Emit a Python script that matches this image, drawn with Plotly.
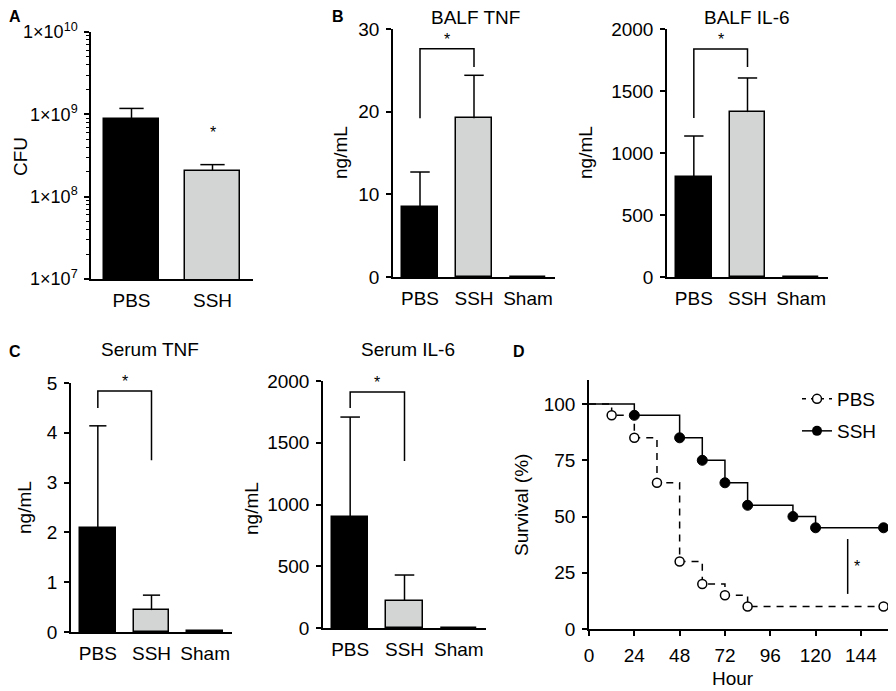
import plotly.graph_objects as go

# the page body has an 8px margin, so the figure is drawn 8px in from the corner
PAGE_W, PAGE_H = 896, 691
OFF = 8
W, H = PAGE_W - OFF, PAGE_H - OFF
FONT = "Liberation Sans, Arial, sans-serif"
BLACK = "black"
GREY = "#d3d5d4"

# ---- data ----
# panel A (CFU, log scale)
cfu_groups = ["PBS", "SSH"]
cfu_mean = [8.7e8, 2.07e8]
cfu_err = [3.1e8, 0.38e8]
cfu_star = 6.5e8

groups = ["PBS", "SSH", "Sham"]

# panel B
balf_tnf_mean = [8.46, 19.2, 0.05]
balf_tnf_err = [4.24, 5.2, None]
balf_tnf_bracket = [19.2, 27.6, 25.4]     # left leg end, top, right leg end

balf_il6_mean = [806, 1330, 0]
balf_il6_err = [331, 275, None]
balf_il6_bracket = [1282, 1838, 1694]

# panel C
serum_tnf_mean = [2.09, 0.44, 0.03]
serum_tnf_err = [2.05, 0.30, None]
serum_tnf_bracket = [4.5, 4.84, 3.45]

serum_il6_mean = [899, 219, 0]
serum_il6_err = [809, 210, None]
serum_il6_bracket = [1781, 1911, 1352]

# panel D (survival)
pbs_hours = [0, 12, 24, 36, 48, 60, 72, 84, 156]
pbs_surv = [100, 95, 85, 65, 30, 20, 15, 10, 10]
ssh_hours = [0, 24, 48, 60, 72, 84, 108, 120, 156]
ssh_surv = [100, 95, 85, 75, 65, 55, 50, 45, 45]
sig_hour = 137
sig_range = [15.6, 40]
hour_ticks = [0, 24, 48, 72, 96, 120, 144]
surv_ticks = [0, 25, 50, 75, 100]


def px_x(a):
    return (a - OFF) / W


def px_y(a):
    return 1 - (a - OFF) / H


def xd(a, b):
    return [px_x(a), px_x(b)]


def yd(top, bottom):
    return [px_y(bottom), px_y(top)]


fig = go.Figure()


def bar_panel(n, means, errs, bracket=None, cap=0.18):
    xa = "x" if n == 1 else "x%d" % n
    ya = "y" if n == 1 else "y%d" % n
    xs = list(range(len(means)))
    fig.add_trace(go.Bar(
        x=xs, y=means, width=0.67,
        marker=dict(color=[BLACK, GREY, GREY][:len(means)],
                    line=dict(color=BLACK, width=1.5)),
        xaxis=xa, yaxis=ya, showlegend=False))
    # upper error bars (stem + cap), no lower cap
    ex, ey = [], []
    for i, (m, e) in enumerate(zip(means, errs)):
        if e is None:
            continue
        ex += [i, i, None, i - cap, i + cap, None]
        ey += [m, m + e, None, m + e, m + e, None]
    fig.add_trace(go.Scatter(x=ex, y=ey, mode="lines",
                             line=dict(color=BLACK, width=1.5),
                             xaxis=xa, yaxis=ya, showlegend=False))
    if bracket is not None:
        fig.add_trace(go.Scatter(
            x=[0, 0, 1, 1], y=[bracket[0], bracket[1], bracket[1], bracket[2]],
            mode="lines", line=dict(color=BLACK, width=1.5),
            xaxis=xa, yaxis=ya, showlegend=False, cliponaxis=False))
        fig.add_annotation(x=0.5, y=bracket[1], xref=xa, yref=ya, text="*",
                           showarrow=False, font=dict(size=16, color=BLACK),
                           yanchor="bottom", yshift=-1)


bar_panel(1, cfu_mean, cfu_err, cap=0.15)
fig.add_annotation(x=1, y=8.81, xref="x", yref="y", text="*", showarrow=False,
                   font=dict(size=16, color=BLACK), yanchor="middle", yshift=-3)
bar_panel(2, balf_tnf_mean, balf_tnf_err, balf_tnf_bracket)
bar_panel(3, balf_il6_mean, balf_il6_err, balf_il6_bracket)
bar_panel(4, serum_tnf_mean, serum_tnf_err, serum_tnf_bracket, cap=0.16)
bar_panel(5, serum_il6_mean, serum_il6_err, serum_il6_bracket)

# survival curves
fig.add_trace(go.Scatter(x=pbs_hours, y=pbs_surv, mode="lines", line_shape="hv",
                         line=dict(color=BLACK, width=1.5, dash="7px,6px"),
                         xaxis="x6", yaxis="y6", showlegend=False))
fig.add_trace(go.Scatter(x=ssh_hours, y=ssh_surv, mode="lines", line_shape="hv",
                         line=dict(color=BLACK, width=1.5),
                         xaxis="x6", yaxis="y6", showlegend=False))
fig.add_trace(go.Scatter(x=pbs_hours[1:], y=pbs_surv[1:], mode="markers",
                         marker=dict(symbol="circle", size=9, color="white",
                                     line=dict(color=BLACK, width=1.5)),
                         xaxis="x6", yaxis="y6", showlegend=False))
fig.add_trace(go.Scatter(x=ssh_hours[1:], y=ssh_surv[1:], mode="markers",
                         marker=dict(symbol="circle", size=10, color=BLACK,
                                     line=dict(color=BLACK, width=1)),
                         xaxis="x6", yaxis="y6", showlegend=False))
fig.add_trace(go.Scatter(x=[sig_hour, sig_hour], y=sig_range, mode="lines",
                         line=dict(color=BLACK, width=1.5),
                         xaxis="x6", yaxis="y6", showlegend=False))
fig.add_annotation(x=sig_hour + 4.8, y=sum(sig_range) / 2, xref="x6", yref="y6",
                   text="*", showarrow=False, font=dict(size=16, color=BLACK))

# legend entries
fig.add_trace(go.Scatter(x=[None], y=[None], mode="lines+markers", name="PBS",
                         line=dict(color=BLACK, width=1.5, dash="4px,5px"),
                         marker=dict(size=9, color="white", line=dict(color=BLACK, width=1.5)),
                         xaxis="x6", yaxis="y6", legend="legend"))
fig.add_trace(go.Scatter(x=[None], y=[None], mode="lines+markers", name="SSH",
                         line=dict(color=BLACK, width=1.5),
                         marker=dict(size=10, color=BLACK),
                         xaxis="x6", yaxis="y6", legend="legend2"))

axis_common = dict(showline=True, linecolor=BLACK, linewidth=1.5, showgrid=False,
                   zeroline=False, automargin=False,
                   tickfont=dict(size=19, color=BLACK, family=FONT))
xbar = dict(axis_common, ticks="", ticklabelstandoff=3)
ytick = dict(axis_common, ticks="outside", ticklen=5, tickwidth=1.5, tickcolor=BLACK,
             ticklabelstandoff=3)

decades = [1e7, 1e8, 1e9, 1e10]
minor_vals = [m * d for d in decades[:-1] for m in range(2, 10)]

fig.update_layout(
    xaxis=dict(xbar, domain=xd(91, 253), range=[-0.5, 1.5], tickvals=[0, 1],
               ticktext=cfu_groups, anchor="y"),
    yaxis=dict(ytick, domain=yd(32, 279), type="log", range=[7, 10],
               tickvals=decades,
               ticktext=["1×10<sup>7</sup>", "1×10<sup>8</sup>",
                         "1×10<sup>9</sup>", "1×10<sup>10</sup>"],
               tickfont=dict(size=18, color=BLACK, family=FONT),
               minor=dict(tickvals=minor_vals, ticks="outside", ticklen=3,
                          tickwidth=1, tickcolor=BLACK, showgrid=False),
               anchor="x"),
    xaxis2=dict(xbar, domain=xd(393, 555), range=[-0.5, 2.5], tickvals=[0, 1, 2],
                ticktext=groups, anchor="y2"),
    yaxis2=dict(ytick, domain=yd(29, 277), range=[0, 30], tickvals=[0, 10, 20, 30],
                anchor="x2"),
    xaxis3=dict(xbar, domain=xd(667, 828), range=[-0.5, 2.5], tickvals=[0, 1, 2],
                ticktext=groups, anchor="y3"),
    yaxis3=dict(ytick, domain=yd(29, 277), range=[0, 2000],
                tickvals=[0, 500, 1000, 1500, 2000], anchor="x3"),
    xaxis4=dict(xbar, domain=xd(71, 232), range=[-0.5, 2.5], tickvals=[0, 1, 2],
                ticktext=groups, anchor="y4"),
    yaxis4=dict(ytick, domain=yd(383, 632), range=[0, 5], tickvals=[0, 1, 2, 3, 4, 5],
                anchor="x4"),
    xaxis5=dict(xbar, domain=xd(323, 486), range=[-0.5, 2.5], tickvals=[0, 1, 2],
                ticktext=groups, anchor="y5"),
    yaxis5=dict(ytick, domain=yd(381, 628), range=[0, 2000],
                tickvals=[0, 500, 1000, 1500, 2000], anchor="x5"),
    xaxis6=dict(ytick, domain=xd(589, 893), range=[0, 161], tickvals=hour_ticks,
                anchor="y6"),
    yaxis6=dict(ytick, domain=yd(380, 629), range=[0, 110.7], tickvals=surv_ticks,
                anchor="x6"),
    legend=dict(x=px_x(797), y=px_y(399), xanchor="left", yanchor="middle",
                bgcolor="rgba(0,0,0,0)", font=dict(size=19, color=BLACK, family=FONT)),
    legend2=dict(x=px_x(797), y=px_y(431), xanchor="left", yanchor="middle",
                 bgcolor="rgba(0,0,0,0)", font=dict(size=19, color=BLACK, family=FONT)),
    width=W, height=H,
    margin=dict(l=0, r=0, t=0, b=0),
    paper_bgcolor="white", plot_bgcolor="white",
    font=dict(family=FONT, color=BLACK, size=19),
    bargap=0,
)

# titles, axis labels and panel letters (page pixel positions)
texts = [
    ("CFU", 20, 157, -90, 19, False),
    ("ng/mL", 340, 153, -90, 19, False),
    ("ng/mL", 585, 153, -90, 19, False),
    ("ng/mL", 24, 508, -90, 19, False),
    ("ng/mL", 251, 508, -90, 19, False),
    ("Survival (%)", 521, 505, -90, 19, False),
    ("Hour", 733, 678, 0, 19, False),
    ("BALF TNF", 475, 17, 0, 19, False),
    ("BALF IL-6", 747, 17, 0, 19, False),
    ("Serum TNF", 150, 349, 0, 19, False),
    ("Serum IL-6", 408, 349, 0, 19, False),
    ("A", 15, 16, 0, 16, True),
    ("B", 338, 16, 0, 16, True),
    ("C", 15, 351, 0, 16, True),
    ("D", 519, 351, 0, 16, True),
]
for t, px, py, ang, sz, bold in texts:
    fig.add_annotation(x=px_x(px), y=px_y(py), xref="paper", yref="paper",
                       text="<b>%s</b>" % t if bold else t, showarrow=False,
                       textangle=ang, xanchor="center", yanchor="middle",
                       font=dict(size=sz, color=BLACK, family=FONT))

fig.write_html("out.html")
